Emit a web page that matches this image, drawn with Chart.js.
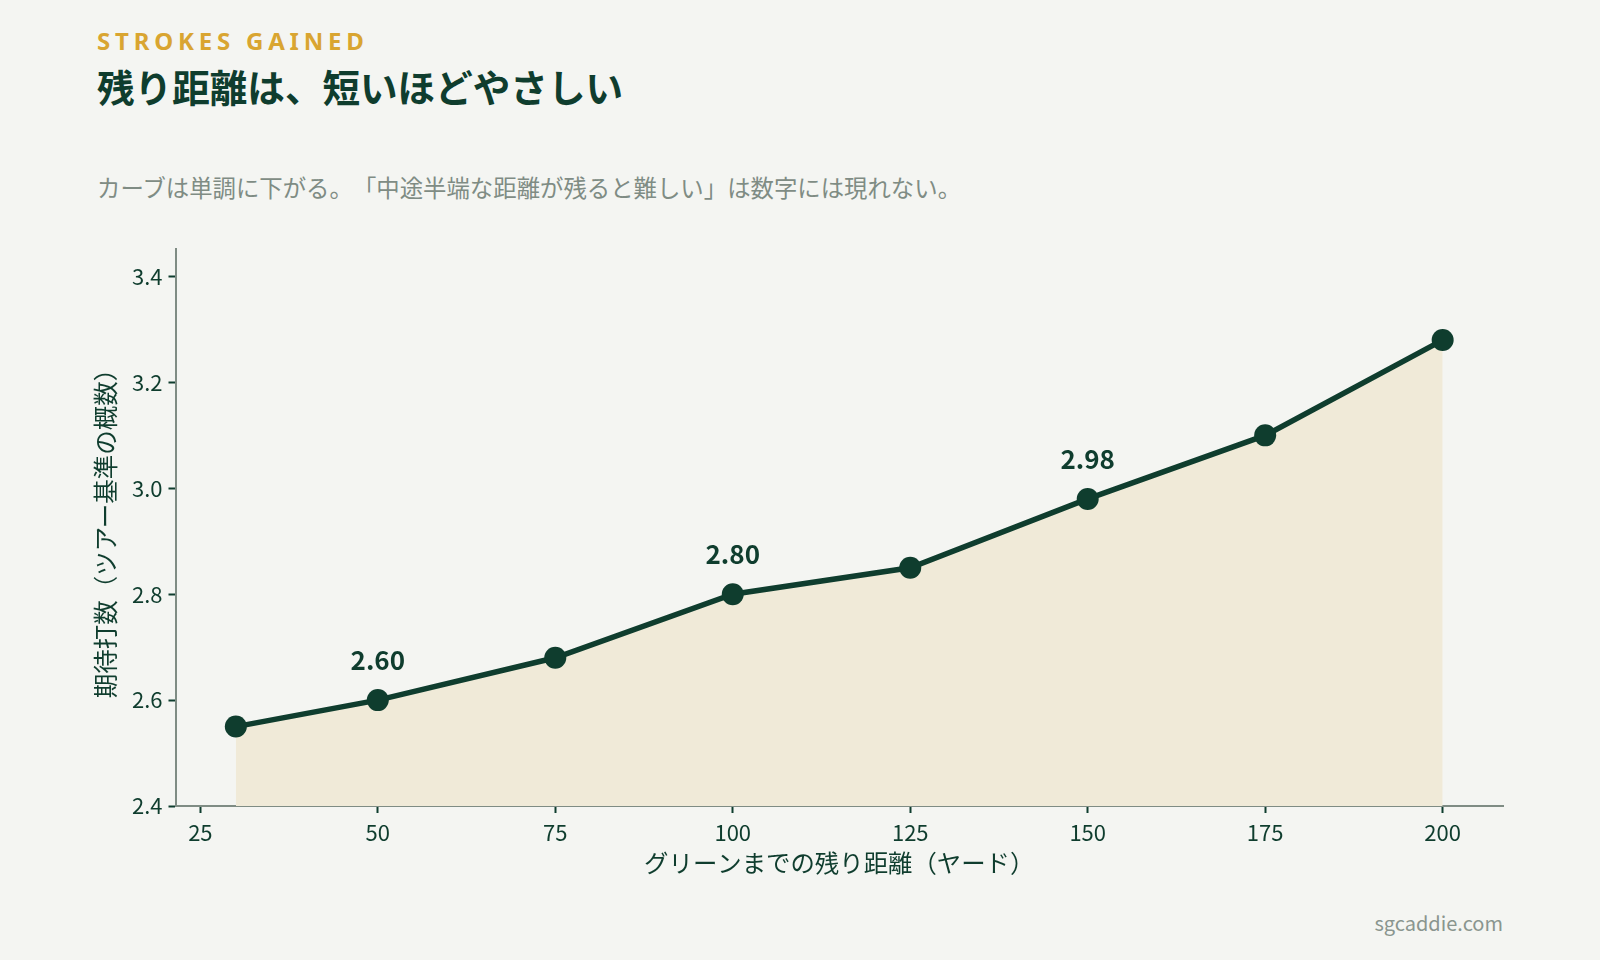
<!DOCTYPE html>
<html lang="ja">
<head>
<meta charset="utf-8">
<script src="https://cdn.jsdelivr.net/npm/chart.js@4"></script>
<style>
  html, body { margin:0; padding:0; background:#f4f5f2; }
  body { width:1600px; height:960px; position:relative; overflow:hidden;
         font-family:'Noto Sans CJK JP','Noto Sans',sans-serif; text-spacing-trim: space-all; }
  .kicker { position:absolute; left:97px; top:29px; font-size:24px; font-weight:700;
            letter-spacing:4.8px; color:#d9a531; line-height:1; font-family:'Noto Sans','Noto Sans CJK JP',sans-serif; }
  .title { position:absolute; left:97px; top:65px; font-size:37.6px; font-weight:700;
           color:#0f3d2e; line-height:1.1; }
  .sub { position:absolute; left:97px; top:175px; font-size:23.4px; color:#7f8c84; line-height:1.1; }
  .foot { position:absolute; right:97px; top:912px; font-size:20px; color:#8a958f; line-height:1.1; }
  canvas { position:absolute; left:0; top:0; }
</style>
</head>
<body>
<div class="kicker">STROKES GAINED</div>
<div class="title">残り距離は、短いほどやさしい</div>
<div class="sub">カーブは単調に下がる。「中途半端な距離が残ると難しい」は数字には現れない。</div>
<div class="foot">sgcaddie.com</div>
<canvas id="c" width="1600" height="960"></canvas>
<script>
const distances = [30, 50, 75, 100, 125, 150, 175, 200];
const expectedStrokes = [2.55, 2.60, 2.68, 2.80, 2.85, 2.98, 3.10, 3.28];
const labelledDistances = [50, 100, 150];
const xTicks = [25, 50, 75, 100, 125, 150, 175, 200];
const yTicks = [2.4, 2.6, 2.8, 3.0, 3.2, 3.4];
const xTitle = 'グリーンまでの残り距離（ヤード）';
const yTitle = '期待打数（ツアー基準の概数）';

const DARK = '#0f3d2e';
const AXIS = '#7f8c84';

Chart.defaults.font.family = "'Noto Sans CJK JP','Noto Sans',sans-serif";
Chart.defaults.color = DARK;

const valueLabels = {
  id: 'valueLabels',
  afterDatasetsDraw(chart) {
    const ctx = chart.ctx;
    const meta = chart.getDatasetMeta(0);
    ctx.save();
    ctx.font = "700 26px 'Noto Sans CJK JP','Noto Sans',sans-serif";
    ctx.fillStyle = DARK;
    ctx.textAlign = 'center';
    ctx.textBaseline = 'middle';
    distances.forEach((d, i) => {
      if (!labelledDistances.includes(d)) return;
      const p = meta.data[i];
      ctx.fillText(expectedStrokes[i].toFixed(2), p.x, p.y - 40);
    });
    ctx.restore();
  }
};

new Chart(document.getElementById('c'), {
  type: 'line',
  data: {
    datasets: [{
      data: distances.map((d, i) => ({ x: d, y: expectedStrokes[i] })),
      borderColor: DARK,
      borderWidth: 5.5,
      backgroundColor: '#f0ead8',
      fill: 'start',
      pointRadius: 11,
      pointHoverRadius: 11,
      pointBackgroundColor: DARK,
      pointBorderColor: DARK,
      pointBorderWidth: 0,
      tension: 0
    }]
  },
  options: {
    responsive: false,
    animation: false,
    events: [],
    layout: { padding: { left: 88, top: 249, right: 97, bottom: 83 } },
    plugins: { legend: { display: false }, tooltip: { enabled: false } },
    scales: {
      x: {
        type: 'linear',
        min: 21.5, max: 208.5,
        afterBuildTicks: s => { s.ticks = xTicks.map(v => ({ value: v })); },
        afterFit: s => { s.height = 71; },
        border: { display: true, color: AXIS, width: 2 },
        grid: { drawOnChartArea: false, drawTicks: true, tickLength: 7, color: DARK, tickWidth: 2 },
        ticks: { font: { size: 22 }, color: DARK, padding: 6, callback: v => String(v) },
        title: { display: true, text: xTitle, font: { size: 24.4 }, color: DARK, padding: { top: 0, bottom: 0 } }
      },
      y: {
        min: 2.4, max: 3.452,
        afterBuildTicks: s => { s.ticks = yTicks.map(v => ({ value: v })); },
        afterFit: s => { s.width = 175.5 - 88; },
        border: { display: true, color: AXIS, width: 2 },
        grid: { drawOnChartArea: false, drawTicks: true, tickLength: 7, color: DARK, tickWidth: 2 },
        ticks: { font: { size: 22 }, color: DARK, padding: 6, callback: v => Number(v).toFixed(1) },
        title: { display: true, text: yTitle, font: { size: 24.5 }, color: DARK, padding: { top: 3, bottom: 3 } }
      }
    }
  },
  plugins: [valueLabels]
});
</script>
</body>
</html>
